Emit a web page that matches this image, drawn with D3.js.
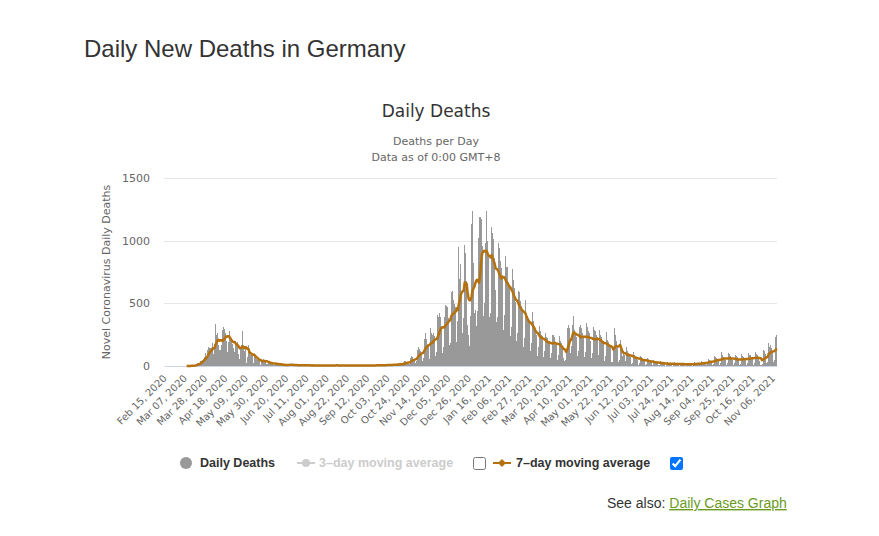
<!DOCTYPE html>
<html>
<head>
<meta charset="utf-8">
<script src="https://cdn.jsdelivr.net/npm/d3@7"></script>
<style>
  body { margin: 0; background: #fff; }
  #wrap { position: relative; width: 879px; height: 536px; }
  .cb { position: absolute; margin: 0; width: 13px; height: 13px; }
</style>
</head>
<body>
<div id="wrap">
  <svg id="chart" width="879" height="536"></svg>
  <input type="checkbox" class="cb" id="cb3" style="left:473px;top:457px">
  <input type="checkbox" class="cb" id="cb7" style="left:670px;top:457px" checked>
</div>
<script>
// daily deaths, Feb 15 2020 - Dec 31 2020 (rows are weeks starting on Saturday)
const deaths2020 = [
  0,0,0,0,0,0,0,
  0,0,0,0,0,0,0,
  0,0,0,0,0,0,0,
  0,0,2,0,1,1,2,
  3,1,4,5,8,12,22,
  27,22,37,39,49,58,72,
  103,64,104,128,149,140,145,
  141,184,92,173,333,246,266,
  171,129,126,170,285,315,299,
  260,200,110,194,281,215,227,
  179,140,110,163,202,173,193,
  94,54,139,165,282,147,118,
  147,26,69,165,101,89,101,
  87,22,72,83,57,44,46,
  40,10,35,47,58,39,45,
  33,12,12,27,29,28,24,
  18,6,8,23,21,13,21,
  8,4,5,12,10,14,7,
  6,3,4,17,12,15,7,
  5,2,2,12,8,12,6,
  6,1,3,12,6,8,7,
  3,1,2,8,7,5,8,
  4,0,1,7,8,6,4,
  4,1,2,6,7,9,5,
  3,0,1,5,6,8,7,
  4,1,2,9,4,7,5,
  3,0,3,6,7,8,4,
  3,1,2,5,9,6,5,
  2,0,1,6,5,7,4,
  3,1,2,8,6,5,5,
  4,0,1,7,9,6,5,
  3,1,2,10,8,11,7,
  5,1,3,12,9,10,8,
  6,2,4,13,15,12,11,
  9,3,6,18,22,19,15,
  14,4,10,30,42,36,35,
  30,12,17,64,80,73,52,
  58,26,40,128,150,132,118,
  107,40,63,213,260,218,171,
  178,55,92,305,261,251,260,
  243,81,110,410,389,426,389,
  317,101,148,388,487,479,467,
  386,165,187,590,598,523,496,
  468,188,360,500,952,698,813,
  600,260,380,962,900,680,330,
  250,160,400,1130,1240,820
];

// daily deaths, Jan 1 2021 - Nov 10 2021
const deaths2021 = [
  420,
  450,320,440,1020,1190,1190,1170,
  960,400,500,980,1240,1150,1000,
  880,390,420,1110,1060,1010,860,
  610,350,390,980,940,840,780,
  720,290,410,880,790,790,670,
  640,240,310,770,690,620,560,
  510,200,260,600,590,520,480,
  440,150,220,530,420,400,380,
  360,120,180,430,360,300,260,
  250,80,150,320,280,250,240,
  210,70,120,260,230,220,200,
  200,60,100,250,250,230,180,
  180,50,90,240,200,180,140,
  60,40,50,120,300,330,300,
  260,100,160,330,400,290,250,
  230,80,120,310,330,300,260,
  240,70,110,340,310,280,260,
  200,60,100,310,290,280,250,
  230,50,90,290,250,230,180,
  200,40,80,270,210,190,150,
  170,30,30,140,300,250,200,
  140,30,50,210,150,80,110,
  90,20,40,150,120,100,80,
  70,15,25,110,90,80,60,
  50,10,20,80,70,60,50,
  40,8,15,60,55,45,40,
  30,5,10,45,40,35,30,
  25,4,8,40,30,25,20,
  20,3,6,30,25,23,18,
  17,2,5,28,22,21,16,
  18,2,4,25,22,19,15,
  14,3,5,24,20,18,17,
  15,3,6,28,25,24,20,
  18,4,8,38,35,30,28,
  25,6,12,55,50,45,40,
  35,8,16,80,70,65,55,
  45,10,20,110,90,75,65,
  50,10,25,105,95,80,60,
  45,8,20,90,80,70,55,
  45,7,18,95,80,75,60,
  55,8,20,100,90,85,70,
  60,10,25,110,95,90,75,
  40,5,5,15,130,120,100,
  95,25,35,180,150,165,140,
  120,30,45,235,245
];

const xTickLabels = [
  "Feb 15, 2020","Mar 07, 2020","Mar 28, 2020","Apr 18, 2020","May 09, 2020","May 30, 2020",
  "Jun 20, 2020","Jul 11, 2020","Aug 01, 2020","Aug 22, 2020","Sep 12, 2020","Oct 03, 2020",
  "Oct 24, 2020","Nov 14, 2020","Dec 05, 2020","Dec 26, 2020","Jan 16, 2021","Feb 06, 2021",
  "Feb 27, 2021","Mar 20, 2021","Apr 10, 2021","May 01, 2021","May 22, 2021","Jun 12, 2021",
  "Jul 03, 2021","Jul 24, 2021","Aug 14, 2021","Sep 04, 2021","Sep 25, 2021","Oct 16, 2021",
  "Nov 06, 2021"
];
const yTicks = [0, 500, 1000, 1500];

const daily = deaths2020.concat(deaths2021);
const n = daily.length;

// 7 day trailing average, starts with the first reported death
const firstDeath = daily.findIndex(v => v > 0);
const avg7 = daily.map((v, i) => i < firstDeath ? null : d3.mean(daily.slice(Math.max(0, i - 6), i + 1)));

const lineColor = "#b5710e";
const barColor = "#999999";
const chartFont = "'DejaVu Sans', Verdana, sans-serif";
const pageFont = "'Liberation Sans', Arial, sans-serif";

const svg = d3.select("#chart");

const x = d3.scaleBand().domain(d3.range(n)).range([164, 777]).paddingInner(0.1).paddingOuter(0.05);
const y = d3.scaleLinear().domain([0, 1500]).range([366, 178]);

// page heading
svg.append("text").attr("x", 84).attr("y", 57)
    .style("font-family", pageFont).style("font-size", "24px").attr("fill", "#333")
    .text("Daily New Deaths in Germany");

// titles
svg.append("text").attr("x", 436).attr("y", 117).attr("text-anchor", "middle")
    .style("font-family", chartFont).style("font-size", "17px").attr("fill", "#333")
    .text("Daily Deaths");
svg.append("text").attr("x", 436).attr("y", 145).attr("text-anchor", "middle")
    .style("font-family", chartFont).style("font-size", "11px").attr("fill", "#666")
    .text("Deaths per Day");
svg.append("text").attr("x", 436).attr("y", 161).attr("text-anchor", "middle")
    .style("font-family", chartFont).style("font-size", "11px").attr("fill", "#666")
    .text("Data as of 0:00 GMT+8");

// grid + y axis
svg.selectAll(".grid").data(yTicks.filter(d => d > 0)).enter().append("line")
    .attr("x1", 164).attr("x2", 777).attr("y1", d => Math.round(y(d)) + 0.5).attr("y2", d => Math.round(y(d)) + 0.5)
    .attr("stroke", "#e6e6e6").attr("stroke-width", 1);

const yAxis = svg.append("g").attr("transform", "translate(150,0)")
    .call(d3.axisLeft(y).tickValues(yTicks).tickSize(0).tickPadding(0).tickFormat(d3.format("d")));
yAxis.select(".domain").remove();
yAxis.selectAll("text").style("font-family", chartFont).style("font-size", "11px").attr("fill", "#666");

svg.append("text").attr("transform", "translate(110,272) rotate(-90)").attr("text-anchor", "middle")
    .style("font-family", chartFont).style("font-size", "11px").attr("fill", "#666")
    .text("Novel Coronavirus Daily Deaths");

// bars
svg.append("g").attr("shape-rendering", "crispEdges")
    .selectAll("rect").data(daily).enter().append("rect")
    .attr("x", (d, i) => x(i)).attr("width", 1)
    .attr("y", d => y(d)).attr("height", d => y(0) - y(d))
    .attr("fill", barColor);

// x axis
const xAxis = svg.append("g").attr("transform", "translate(0,366)")
    .call(d3.axisBottom(x).tickValues(d3.range(0, n, 21)).tickSize(0)
        .tickFormat((d, i) => xTickLabels[i]));
xAxis.select(".domain").attr("stroke", "#ccd6eb");
xAxis.selectAll("text")
    .attr("y", 0).attr("dy", 0).attr("text-anchor", "end")
    .attr("transform", "translate(3,13) rotate(-45)")
    .style("font-family", chartFont).style("font-size", "10px").attr("fill", "#666");

// 7-day moving average
const line = d3.line().defined(d => d != null)
    .x((d, i) => x(i) + x.bandwidth() / 2).y(d => y(d));
svg.append("path").datum(avg7).attr("d", line)
    .attr("fill", "none").attr("stroke", lineColor).attr("stroke-width", 2.5)
    .attr("stroke-linejoin", "round");

// legend
const lg = svg.append("g").style("font-family", pageFont).style("font-size", "12.5px").style("font-weight", "bold");
lg.append("circle").attr("cx", 186).attr("cy", 463).attr("r", 6).attr("fill", barColor);
lg.append("text").attr("x", 200).attr("y", 467).attr("fill", "#333").text("Daily Deaths");

lg.append("line").attr("x1", 297).attr("x2", 315).attr("y1", 463).attr("y2", 463).attr("stroke", "#ccc").attr("stroke-width", 2);
lg.append("circle").attr("cx", 306).attr("cy", 463).attr("r", 4).attr("fill", "#ccc");
lg.append("text").attr("x", 319).attr("y", 467).attr("fill", "#ccc").text("3\u2013day moving average");

lg.append("line").attr("x1", 493).attr("x2", 511).attr("y1", 463).attr("y2", 463).attr("stroke", lineColor).attr("stroke-width", 2);
lg.append("path").attr("d", d3.symbol(d3.symbolDiamond2, 40)).attr("transform", "translate(502,463)").attr("fill", lineColor);
lg.append("text").attr("x", 516).attr("y", 467).attr("fill", "#333").text("7\u2013day moving average");

// see also
const sa = svg.append("text").attr("x", 607).attr("y", 508)
    .style("font-family", pageFont).style("font-size", "14px").attr("fill", "#333");
sa.append("tspan").text("See also: ");
sa.append("tspan").attr("fill", "#6a9b22").style("text-decoration", "underline").text("Daily Cases Graph");
</script>
</body>
</html>
